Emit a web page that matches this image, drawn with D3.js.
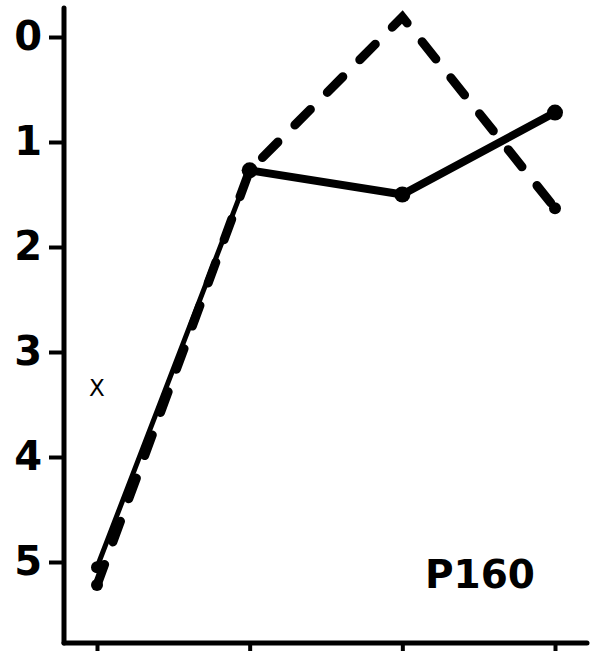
<!DOCTYPE html>
<html>
<head>
<meta charset="utf-8">
<script src="https://cdn.jsdelivr.net/npm/d3@7"></script>
<style>
  body { margin: 0; background: #fff; }
  svg { display: block; }
</style>
</head>
<body>
<div id="chart"></div>
<script>
// data
var trials = [1, 2, 3, 4];
var solidValues = [5.05, 1.27, 1.5, 0.72];
var dashedValues = [5.22, 1.27, -0.19, 1.63];
var yTicks = [0, 1, 2, 3, 4, 5];
var panelLabel = "P160";
var markLabel = "X";

var svgWidth = 595;
var svgHeight = 651;

var svg = d3.select("#chart")
  .append("svg")
  .attr("width", svgWidth)
  .attr("height", svgHeight);

var axisX = 64;
var axisY = 643;

var xScale = d3.scaleLinear()
  .domain([1, 4])
  .range([97, 555]);

var yScale = d3.scaleLinear()
  .domain([0, 5])
  .range([37, 562]);

// axes
var leftAxis = d3.axisLeft(yScale)
  .tickValues(yTicks)
  .tickSize(15)
  .tickPadding(7)
  .tickFormat(d3.format("d"));

var yAxisG = svg.append("g")
  .attr("transform", `translate(${axisX}, 0)`)
  .call(leftAxis);

yAxisG.select(".domain").remove();
yAxisG.selectAll("line").attr("stroke", "#000").attr("stroke-width", 4);
yAxisG.selectAll("text")
  .attr("font-family", "DejaVu Sans")
  .attr("font-weight", "bold")
  .attr("font-size", 40)
  .attr("fill", "#000");

var bottomAxis = d3.axisBottom(xScale)
  .tickValues(trials)
  .tickSize(9)
  .tickFormat("");

var xAxisG = svg.append("g")
  .attr("transform", `translate(0, ${axisY})`)
  .call(bottomAxis);

xAxisG.select(".domain").remove();
xAxisG.selectAll("line").attr("stroke", "#000").attr("stroke-width", 4);

// axis lines drawn by hand so they run past the ticks
svg.append("line")
  .attr("x1", axisX).attr("y1", 8)
  .attr("x2", axisX).attr("y2", axisY)
  .attr("stroke", "#000").attr("stroke-width", 5)
  .attr("stroke-linecap", "round");

svg.append("line")
  .attr("x1", axisX).attr("y1", axisY)
  .attr("x2", 587).attr("y2", axisY)
  .attr("stroke", "#000").attr("stroke-width", 5)
  .attr("stroke-linecap", "round");

// dashed series
var line = d3.line()
  .x((d, i) => xScale(trials[i]))
  .y(d => yScale(d));

svg.append("path")
  .datum(dashedValues)
  .attr("d", line)
  .attr("fill", "none")
  .attr("stroke", "#000")
  .attr("stroke-width", 9)
  .attr("stroke-linecap", "round")
  .attr("stroke-dasharray", "22 24");

svg.selectAll(".dashdot")
  .data([dashedValues[0], dashedValues[3]])
  .enter()
  .append("circle")
  .attr("class", "dashdot")
  .attr("cx", (d, i) => xScale(i === 0 ? trials[0] : trials[3]))
  .attr("cy", d => yScale(d))
  .attr("r", 6)
  .attr("fill", "#000");

// solid series, first segment thinner
var segments = d3.pairs(solidValues.map((v, i) => [trials[i], v]));

svg.selectAll(".seg")
  .data(segments)
  .enter()
  .append("line")
  .attr("class", "seg")
  .attr("x1", d => xScale(d[0][0]))
  .attr("y1", d => yScale(d[0][1]))
  .attr("x2", d => xScale(d[1][0]))
  .attr("y2", d => yScale(d[1][1]))
  .attr("stroke", "#000")
  .attr("stroke-width", (d, i) => i === 0 ? 5 : 8)
  .attr("stroke-linecap", "round");

svg.selectAll(".pt")
  .data(solidValues)
  .enter()
  .append("circle")
  .attr("class", "pt")
  .attr("cx", (d, i) => xScale(trials[i]))
  .attr("cy", d => yScale(d))
  .attr("r", (d, i) => i === 0 ? 6 : 8)
  .attr("fill", "#000");

// labels
svg.append("text")
  .attr("x", 97)
  .attr("y", 396)
  .attr("text-anchor", "middle")
  .attr("font-family", "DejaVu Sans")
  .attr("font-size", 23)
  .text(markLabel);

svg.append("text")
  .attr("x", 425)
  .attr("y", 588)
  .attr("font-family", "DejaVu Sans")
  .attr("font-weight", "bold")
  .attr("font-size", 39)
  .text(panelLabel);
</script>
</body>
</html>
